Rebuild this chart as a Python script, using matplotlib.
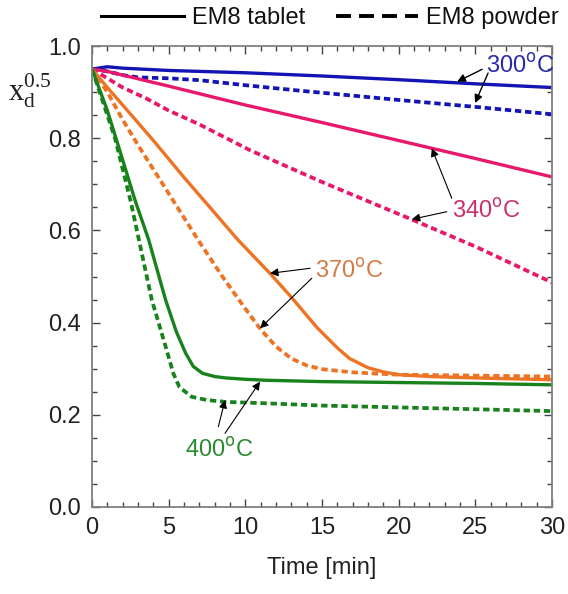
import matplotlib
matplotlib.use("Agg")
import matplotlib.pyplot as plt
from matplotlib.lines import Line2D
from matplotlib.ticker import MultipleLocator, FormatStrFormatter

plt.rcParams['font.family'] = ['Liberation Sans', 'DejaVu Sans']

# ---- data ----
t_300_tab = [0, 1, 2, 5, 10, 15, 20, 25, 30]
x_300_tab = [0.95, 0.955, 0.952, 0.947, 0.942, 0.935, 0.927, 0.918, 0.910]

t_300_pow = [0, 1, 2, 3, 5, 7, 10, 13.6, 20, 25, 30]
x_300_pow = [0.95, 0.945, 0.937, 0.932, 0.93, 0.926, 0.915, 0.903, 0.883, 0.868, 0.852]

t_340_tab = [0, 1, 2, 5, 10, 15, 20, 25, 30]
x_340_tab = [0.95, 0.945, 0.937, 0.913, 0.872, 0.834, 0.795, 0.756, 0.716]

t_340_pow = [0, 1, 2, 3.5, 5, 7, 10.3, 15, 20.9, 25, 30]
x_340_pow = [0.95, 0.93, 0.91, 0.887, 0.86, 0.83, 0.774, 0.705, 0.623, 0.565, 0.487]

t_370_tab = [0, 1, 2, 4, 6, 8, 9.5, 11.6, 13, 14.65, 16, 16.8, 18, 19, 20, 22, 25, 30]
x_370_tab = [0.95, 0.91, 0.872, 0.795, 0.715, 0.638, 0.58, 0.507, 0.455, 0.39, 0.345,
             0.322, 0.302, 0.293, 0.287, 0.283, 0.28, 0.276]

t_370_pow = [0, 1, 2, 3, 5, 7, 8.5, 10, 11, 12, 13, 14, 15, 17, 20, 25, 30]
x_370_pow = [0.95, 0.9, 0.84, 0.785, 0.68, 0.575, 0.5, 0.43, 0.385, 0.348, 0.322, 0.307,
             0.299, 0.292, 0.287, 0.285, 0.283]

t_400_tab = [0, 0.5, 1, 1.6, 2.8, 3.7, 4.8, 5.5, 6.1, 6.6, 7.2, 8, 8.7, 10, 11.3, 15, 20, 25, 30]
x_400_tab = [0.95, 0.905, 0.86, 0.796, 0.666, 0.579, 0.449, 0.38, 0.334, 0.305, 0.29, 0.283,
             0.28, 0.277, 0.275, 0.272, 0.27, 0.268, 0.265]

t_400_pow = [0, 0.5, 1, 1.5, 2.5, 3.9, 4.8, 5.3, 5.7, 6.5, 7.5, 8.7, 11.3, 15, 20, 25, 30]
x_400_pow = [0.95, 0.9, 0.85, 0.8, 0.666, 0.449, 0.348, 0.29, 0.26, 0.239, 0.232, 0.228,
             0.225, 0.22, 0.216, 0.212, 0.208]

temp_labels = ["300", "340", "370", "400"]
legend_labels = ["EM8 tablet", "EM8 powder"]

c_blue = "#1414b4"
c_pink = "#e8186c"
c_orange = "#ec7424"
c_green = "#18821c"
txt_blue = "#2a2aa8"
txt_pink = "#c8306c"
txt_orange = "#d47a44"
txt_green = "#2a8a30"

FS = 17

fig = plt.figure(figsize=(5.68, 5.94), dpi=100)
ax = fig.add_axes([0.162, 0.1465, 0.81, 0.776])

lw_s = 2.4
lw_d = 2.7
dash = (1.7, 1.0)

ax.plot(t_300_tab, x_300_tab, color=c_blue, lw=lw_s)
ax.plot(t_300_pow, x_300_pow, color=c_blue, lw=lw_d, dashes=dash)
ax.plot(t_340_tab, x_340_tab, color=c_pink, lw=lw_s)
ax.plot(t_340_pow, x_340_pow, color=c_pink, lw=lw_d, dashes=dash)
ax.plot(t_370_tab, x_370_tab, color=c_orange, lw=lw_s)
ax.plot(t_370_pow, x_370_pow, color=c_orange, lw=lw_d, dashes=dash)
ax.plot(t_400_tab, x_400_tab, color=c_green, lw=lw_s)
ax.plot(t_400_pow, x_400_pow, color=c_green, lw=lw_d, dashes=dash)

ax.set_xlim(0, 30)
ax.set_ylim(0, 1.0)
ax.xaxis.set_major_locator(MultipleLocator(5))
ax.xaxis.set_minor_locator(MultipleLocator(1))
ax.yaxis.set_major_locator(MultipleLocator(0.2))
ax.yaxis.set_minor_locator(MultipleLocator(0.05))
ax.tick_params(which='both', direction='in', top=True, right=True, colors='#444444',
               labelcolor='#222222', labelsize=FS)
ax.tick_params(which='major', length=6, width=1)
ax.tick_params(which='minor', length=3.5, width=1)
ax.tick_params(axis='x', pad=7.5)
ax.tick_params(axis='y', pad=8)
ax.yaxis.set_major_formatter(FormatStrFormatter('%.1f'))
for s in ax.spines.values():
    s.set_color('#808080')
    s.set_linewidth(1.3)

ax.set_xlabel("Time [min]", fontsize=17, color='#222222', labelpad=13)

fig.text(8 / 568, 1 - 100 / 594, r"$\mathregular{x_d^{0.5}}$", fontsize=22,
         family='Liberation Serif', color='#222222', ha='left', va='baseline')


def px(xp, yp):
    return ((xp - 92) / (460 / 30), (507 - yp) / 461)


def arrow(tip, tail, lw=0.8):
    ax.annotate("", xy=px(*tip), xytext=px(*tail),
                arrowprops=dict(arrowstyle='-|>', color='black', lw=lw,
                                mutation_scale=12, shrinkA=0, shrinkB=0))


# 300
arrow((457, 81.7), (482, 69.3), 1.0)
arrow((475, 103), (488, 73), 1.0)
ax.text(*px(520, 66), temp_labels[0] + r"$^{\rm o}$C", color=txt_blue, fontsize=FS,
        ha='center', va='center')
# 340
arrow((431.7, 148.3), (451.7, 198.3))
arrow((411.7, 219.3), (446.7, 211.7))
ax.text(*px(486, 211), temp_labels[1] + r"$^{\rm o}$C", color=txt_pink, fontsize=FS,
        ha='center', va='center')
# 370
arrow((270, 273.3), (310, 268.3))
arrow((260, 328.3), (311.7, 278.3))
ax.text(*px(349, 271), temp_labels[2] + r"$^{\rm o}$C", color=txt_orange, fontsize=FS,
        ha='center', va='center')
# 400
arrow((225, 400), (218.3, 426.7))
arrow((260, 381.7), (225, 433.3))
ax.text(*px(219, 450), temp_labels[3] + r"$^{\rm o}$C", color=txt_green, fontsize=FS,
        ha='center', va='center')

handles = [Line2D([], [], color='black', lw=2.2),
           Line2D([], [], color='black', lw=2.8, dashes=(3.85, 2.07))]
fig.legend(handles, legend_labels, loc='upper left', bbox_to_anchor=(101 / 568, 1 - 7 / 594),
           ncol=2, frameon=False, fontsize=FS, handlelength=3.5, columnspacing=1.3,
           handletextpad=0.34, borderpad=0, borderaxespad=0, labelcolor='#111111')

fig.savefig("out.png", dpi=100)
